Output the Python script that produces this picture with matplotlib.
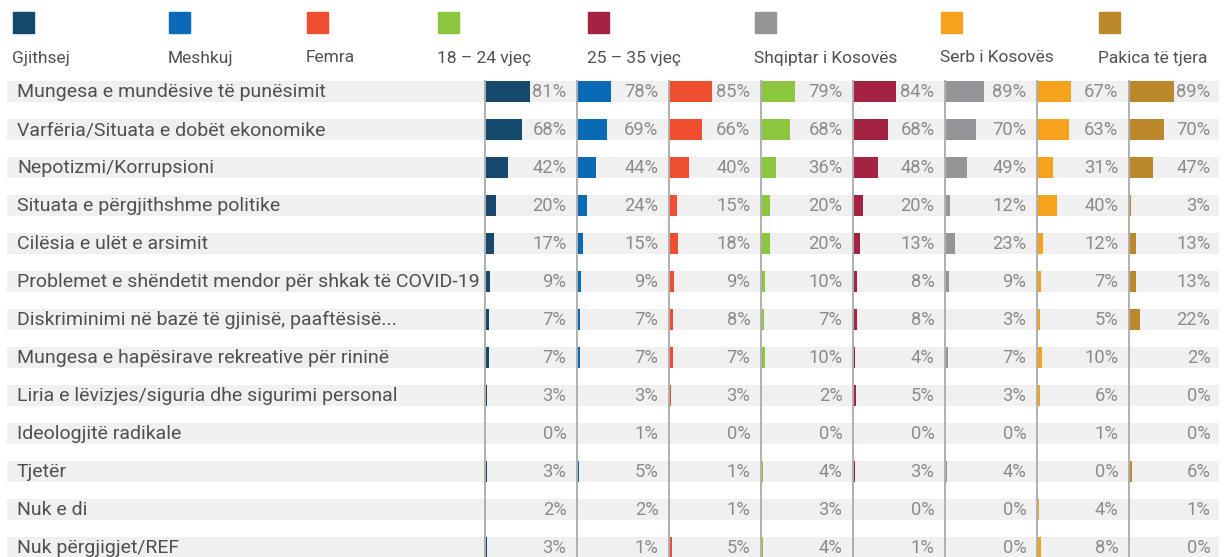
import matplotlib
matplotlib.use("Agg")
import matplotlib.pyplot as plt
from matplotlib.patches import Rectangle

plt.rcParams['font.family'] = ['Roboto', 'DejaVu Sans']

categories = [
    "Mungesa e mundësive të punësimit",
    "Varfëria/Situata e dobët ekonomike",
    "Nepotizmi/Korrupsioni",
    "Situata e përgjithshme politike",
    "Cilësia e ulët e arsimit",
    "Problemet e shëndetit mendor për shkak të COVID-19",
    "Diskriminimi në bazë të gjinisë, paaftësisë...",
    "Mungesa e hapësirave rekreative për rininë",
    "Liria e lëvizjes/siguria dhe sigurimi personal",
    "Ideologjitë radikale",
    "Tjetër",
    "Nuk e di",
    "Nuk përgjigjet/REF",
]

groups = ["Gjithsej", "Meshkuj", "Femra", "18 – 24 vjeç", "25 – 35 vjeç",
          "Shqiptar i Kosovës", "Serb i Kosovës", "Pakica të tjera"]

gjithsej = [81, 68, 42, 20, 17, 9, 7, 7, 3, 0, 3, 2, 3]
meshkuj = [78, 69, 44, 24, 15, 9, 7, 7, 3, 1, 5, 2, 1]
femra = [85, 66, 40, 15, 18, 9, 8, 7, 3, 0, 1, 1, 5]
age_18_24 = [79, 68, 36, 20, 20, 10, 7, 10, 2, 0, 4, 3, 4]
age_25_35 = [84, 68, 48, 20, 13, 8, 8, 4, 5, 0, 3, 0, 1]
shqiptar = [89, 70, 49, 12, 23, 9, 3, 7, 3, 0, 4, 0, 0]
serb = [67, 63, 31, 40, 12, 7, 5, 10, 6, 1, 0, 4, 8]
pakica = [89, 70, 47, 3, 13, 13, 22, 2, 0, 0, 6, 1, 0]

series = [gjithsej, meshkuj, femra, age_18_24, age_25_35, shqiptar, serb, pakica]
colors = ["#154a6e", "#0a6ab5", "#f04e30", "#8cc63f", "#a52342",
          "#939598", "#f7a21c", "#bb892c"]
# each small panel has its own scale in the original
xmax = [167, 214, 184, 214, 180, 209, 184, 184]

W, H = 1228, 557
fig = plt.figure(figsize=(W / 100, H / 100), dpi=100)

n = len(categories)
ytop = -0.2763
ybot = (557 - 91.5) / 38
band_h = 21 / 38
ax_bottom = 0
ax_height = (557 - 81) / H

# background axis with grey bands and category labels
bg = fig.add_axes([0, ax_bottom, 1, ax_height])
bg.set_xlim(0, 1)
bg.set_ylim(ybot, ytop)
bg.axis("off")
for i, cat in enumerate(categories):
    bg.barh(i, 1212 / W, left=7 / W, height=band_h, color="#f0f0f0", zorder=0)
    bg.text(17 / W, i + 0.02, cat, va="center", ha="left", fontsize=14,
            color="#505050")

# one small panel per group
for k, (vals, col) in enumerate(zip(series, colors)):
    left = (485 + 92 * k) / W
    ax = fig.add_axes([left, ax_bottom, 92 / W, ax_height])
    ax.patch.set_alpha(0)
    ax.barh(range(n), vals, height=band_h, color=col, zorder=2)
    ax.set_xlim(0, xmax[k])
    ax.set_ylim(ybot, ytop)
    for s in ["top", "right", "bottom"]:
        ax.spines[s].set_visible(False)
    ax.spines["left"].set_color("#b0b0b0")
    ax.spines["left"].set_linewidth(1.4)
    ax.set_xticks([])
    ax.set_yticks([])
    for i, v in enumerate(vals):
        ax.text(0.885, i + 0.02, f"{v}%", transform=ax.get_yaxis_transform(),
                ha="right", va="center", fontsize=13.2,
                color="#8c8c8c", zorder=3)

# legend: squares above names
leg_x = [13, 169, 307, 438, 588, 755, 941, 1099]
for x, name, col in zip(leg_x, groups, colors):
    fig.add_artist(Rectangle((x / W, 1 - 33 / H), 21 / W, 21 / H,
                             transform=fig.transFigure, color=col))
    fig.text((x - 1) / W, 1 - 58 / H, name, ha="left", va="center",
             fontsize=12.5, color="#505050")

fig.savefig("out.png", dpi=100)
